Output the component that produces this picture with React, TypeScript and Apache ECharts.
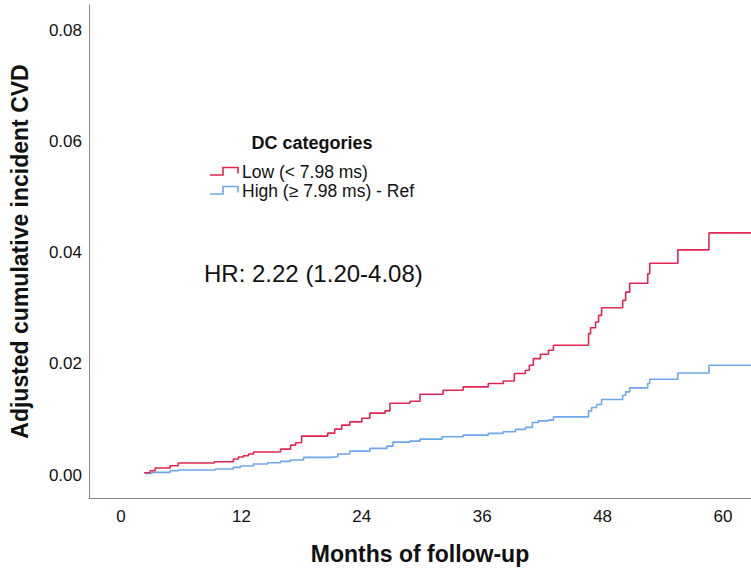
import React, { useEffect, useRef } from "react";
import * as echarts from "echarts";

// Months at which each step occurs, and cumulative incidence after the step
const lowMonths = [2.3, 2.9, 3.4, 4.9, 5.7, 9.3, 11.2, 11.7, 12.2, 12.7, 13.2, 15.9, 16.9, 17.4, 18.0, 20.6, 21.3, 22.0, 22.8, 24.0, 24.8, 26.3, 26.8, 28.8, 29.8, 32.1, 34.1, 36.6, 38.1, 39.2, 40.3, 40.7, 41.1, 41.8, 42.6, 43.1, 46.6, 46.8, 47.3, 47.6, 47.9, 50.0, 50.3, 50.7, 52.5, 52.7, 55.5, 58.6, 63.0];
const lowValues = [0.0004, 0.00077, 0.00126, 0.00167, 0.00215, 0.00239, 0.00287, 0.00323, 0.00346, 0.00377, 0.00413, 0.00466, 0.00538, 0.00579, 0.0070, 0.00753, 0.00825, 0.00897, 0.00956, 0.01022, 0.01112, 0.01153, 0.01291, 0.01327, 0.01453, 0.01525, 0.01584, 0.01645, 0.01691, 0.01824, 0.01883, 0.01973, 0.02093, 0.0217, 0.02242, 0.02332, 0.02542, 0.02649, 0.0275, 0.0287, 0.03008, 0.03139, 0.03288, 0.03449, 0.03618, 0.03808, 0.04048, 0.04353, 0.04353];

const highMonths = [2.4, 3.1, 4.9, 5.7, 9.4, 11.2, 11.9, 13.2, 14.6, 15.9, 16.9, 18.2, 20.8, 21.6, 22.8, 24.8, 26.5, 27.1, 28.8, 29.8, 32.0, 34.1, 36.6, 38.1, 39.3, 40.3, 41.0, 41.6, 42.6, 43.1, 46.6, 46.9, 47.4, 47.9, 50.0, 50.3, 50.7, 52.5, 52.7, 55.5, 58.6, 63.0];
const highValues = [0.0003, 0.00048, 0.00077, 0.0009, 0.00108, 0.00138, 0.00161, 0.00197, 0.00221, 0.00246, 0.00269, 0.00317, 0.00328, 0.00377, 0.0043, 0.00479, 0.0052, 0.00592, 0.0061, 0.00646, 0.00687, 0.00717, 0.00748, 0.00777, 0.0082, 0.00856, 0.00945, 0.00974, 0.00987, 0.01046, 0.01153, 0.01214, 0.01268, 0.01358, 0.01435, 0.01494, 0.01566, 0.01645, 0.01722, 0.01835, 0.01973, 0.01973];

const xTicks = [0, 12, 24, 36, 48, 60];
const yTicks = [0, 0.02, 0.04, 0.06, 0.08];

const seriesNames = ["Low (< 7.98 ms)", "High (≥ 7.98 ms) - Ref"];
const legendTitle = "DC categories";
const hrText = "HR: 2.22 (1.20-4.08)";

const RED = "#e2264f";
const BLUE = "#6ea6ea";
const FONT = "'Liberation Sans', Arial, Helvetica, sans-serif";

export default function App() {
  const ref = useRef<HTMLDivElement>(null);
  useEffect(() => {
    if (!ref.current) return;
    const chart = echarts.init(ref.current, undefined, { renderer: "svg" });
    const low = lowMonths.map((m, i) => [m, lowValues[i]]);
    const high = highMonths.map((m, i) => [m, highValues[i]]);
    const iconPts = (y: number) => [
      [210, y + 7.5],
      [223, y + 7.5],
      [223, y],
      [238, y],
      [238, y + 6],
    ];
    chart.setOption({
      animation: false,
      backgroundColor: "#ffffff",
      textStyle: { fontFamily: FONT },
      grid: { left: 89, right: 0, top: 5, bottom: 71, containLabel: false, outerBoundsMode: "none" },
      xAxis: {
        type: "value",
        min: -3.19,
        max: 62.79,
        name: "Months of follow-up",
        nameLocation: "middle",
        nameGap: 44,
        nameTextStyle: { fontSize: 23, fontWeight: "bold", color: "#111", fontFamily: FONT },
        axisLine: { show: true, onZero: false, lineStyle: { color: "#888", width: 1 } },
        axisTick: { show: false },
        splitLine: { show: false },
        axisLabel: {
          customValues: xTicks,
          fontSize: 17,
          color: "#111",
          margin: 10,
          fontFamily: FONT,
          formatter: (v: number) => String(v),
        },
      },
      yAxis: {
        type: "value",
        min: -0.00413,
        max: 0.0845,
        name: "Adjusted cumulative incident CVD",
        nameLocation: "middle",
        nameGap: 58,
        nameTextStyle: { fontSize: 23, fontWeight: "bold", color: "#111", fontFamily: FONT },
        axisLine: { show: true, onZero: false, lineStyle: { color: "#888", width: 1 } },
        axisTick: { show: false },
        splitLine: { show: false },
        axisLabel: {
          customValues: yTicks,
          fontSize: 17,
          color: "#111",
          margin: 7,
          fontFamily: FONT,
          formatter: (v: number) => v.toFixed(2),
        },
      },
      series: [
        {
          name: seriesNames[0],
          type: "line",
          step: "end",
          data: low,
          symbol: "none",
          clip: true,
          lineStyle: { color: RED, width: 1.6 },
          z: 3,
        },
        {
          name: seriesNames[1],
          type: "line",
          step: "end",
          data: high,
          symbol: "none",
          clip: true,
          lineStyle: { color: BLUE, width: 1.6 },
          z: 2,
        },
      ],
      graphic: [
        {
          type: "text",
          style: {
            x: 312,
            y: 143,
            text: legendTitle,
            fontSize: 18,
            fontWeight: "bold",
            fill: "#111",
            fontFamily: FONT,
            align: "center",
            verticalAlign: "middle",
          },
        },
        {
          type: "polyline",
          shape: { points: iconPts(167.5) },
          style: { stroke: RED, lineWidth: 1.6, fill: "none" },
        },
        {
          type: "text",
          style: {
            x: 242,
            y: 172,
            text: seriesNames[0],
            fontSize: 17.5,
            fill: "#111",
            fontFamily: FONT,
            align: "left",
            verticalAlign: "middle",
          },
        },
        {
          type: "polyline",
          shape: { points: iconPts(186.5) },
          style: { stroke: BLUE, lineWidth: 1.6, fill: "none" },
        },
        {
          type: "text",
          style: {
            x: 242,
            y: 191,
            text: seriesNames[1],
            fontSize: 17.5,
            fill: "#111",
            fontFamily: FONT,
            align: "left",
            verticalAlign: "middle",
          },
        },
        {
          type: "text",
          style: {
            x: 204,
            y: 273,
            text: hrText,
            fontSize: 24,
            fill: "#111",
            fontFamily: FONT,
            align: "left",
            verticalAlign: "middle",
          },
        },
      ],
    });
    return () => chart.dispose();
  }, []);
  return (
    <div
      ref={ref}
      style={{ position: "fixed", left: 0, top: 0, width: 751, height: 569, background: "#fff" }}
    />
  );
}
